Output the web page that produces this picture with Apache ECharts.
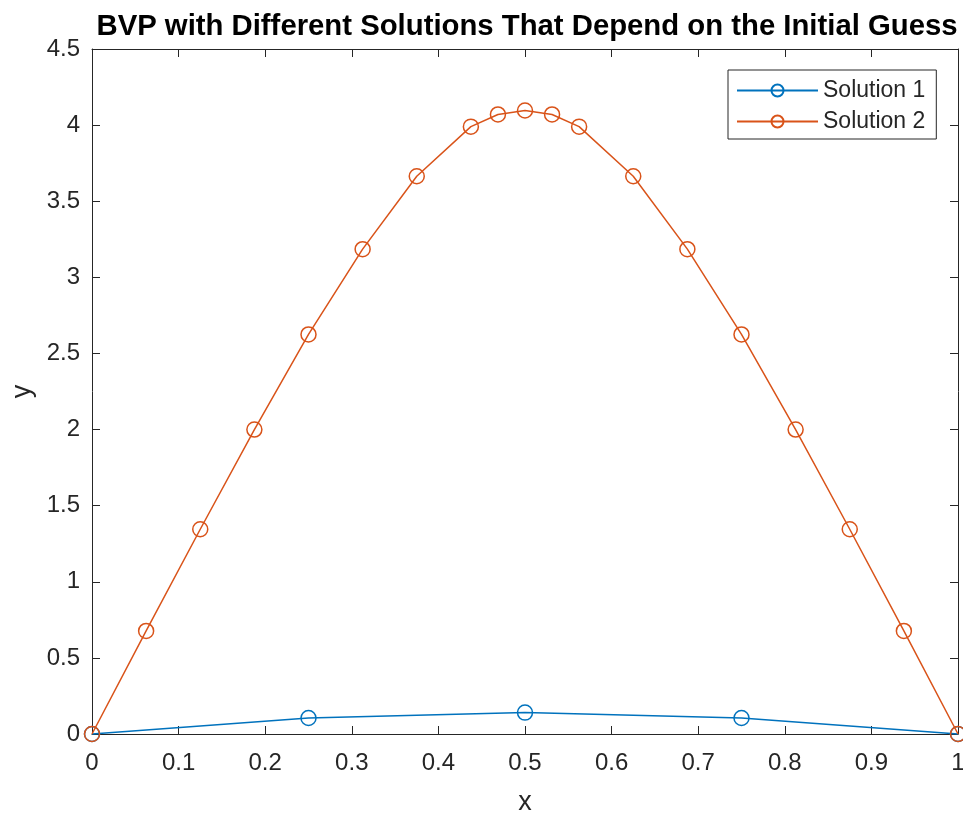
<!DOCTYPE html>
<html>
<head>
<meta charset="utf-8">
<script src="https://cdn.jsdelivr.net/npm/echarts@6/dist/echarts.min.js"></script>
<style>
html,body{margin:0;padding:0;background:#fff;overflow:hidden;}
#chart{width:963px;height:815px;}
</style>
</head>
<body>
<div id="chart"></div>
<script>
var titleText = 'BVP with Different Solutions That Depend on the Initial Guess';
var xName = 'x';
var yName = 'y';
var seriesNames = ['Solution 1', 'Solution 2'];

var sol1X = [0, 0.25, 0.5, 0.75, 1];
var sol1Y = [0, 0.105, 0.1405, 0.105, 0];

var sol2X = [0, 0.0625, 0.125, 0.1875, 0.25, 0.3125, 0.375, 0.4375, 0.46875, 0.5, 0.53125, 0.5625, 0.625, 0.6875, 0.75, 0.8125, 0.875, 0.9375, 1];
var sol2Y = [0, 0.677, 1.345, 2.0, 2.625, 3.185, 3.664, 3.99, 4.07, 4.096, 4.07, 3.99, 3.664, 3.185, 2.625, 2.0, 1.345, 0.677, 0];

var xMin = 0, xMax = 1, xStep = 0.1;
var yMin = 0, yMax = 4.5, yStep = 0.5;

function pairs(xs, ys) { return xs.map(function (x, i) { return [x, ys[i]]; }); }

var FONT = '"Liberation Sans", Arial, Helvetica, sans-serif';
var AX = '#262626';
var BLUE = '#0072BD';
var ORANGE = '#D95319';

var chart = echarts.init(document.getElementById('chart'), null, {renderer: 'canvas', width: 963, height: 815});

function axisBase(extra) {
  var a = {
    type: 'value',
    axisLine: {show: true, onZero: false, lineStyle: {color: AX, width: 1}},
    axisTick: {show: true, inside: true, length: 8, lineStyle: {color: AX, width: 1}},
    splitLine: {show: false}
  };
  for (var k in extra) a[k] = extra[k];
  return a;
}

function seriesOf(name, xs, ys, color, z) {
  return {
    name: name, type: 'line', xAxisIndex: 0, yAxisIndex: 0,
    data: pairs(xs, ys),
    symbol: 'circle', symbolSize: 15, showAllSymbol: true, clip: false,
    lineStyle: {color: color, width: 1.5},
    itemStyle: {color: 'rgba(255,255,255,0)', borderColor: color, borderWidth: 1.5},
    emphasis: {disabled: true},
    z: z
  };
}

var option = {
  backgroundColor: '#ffffff',
  animation: false,
  title: {
    text: titleText,
    left: 522,
    textAlign: 'center',
    top: 7,
    textStyle: {fontFamily: FONT, fontWeight: 'bold', fontSize: 29.3, color: '#000'}
  },
  legend: {
    orient: 'vertical',
    left: 728,
    top: 70,
    padding: [9, 11, 6, 8],
    itemGap: 8,
    itemWidth: 81,
    itemHeight: 15,
    backgroundColor: '#fff',
    borderColor: AX,
    borderWidth: 1,
    textStyle: {fontFamily: FONT, fontSize: 23, color: AX},
    data: seriesNames
  },
  grid: {left: 92, top: 49, width: 866, height: 685, containLabel: false, outerBoundsMode: 'none'},
  xAxis: [
    axisBase({
      min: xMin, max: xMax, interval: xStep, position: 'bottom',
      name: xName, nameLocation: 'middle', nameGap: 55,
      nameTextStyle: {fontFamily: FONT, fontSize: 27, color: AX},
      axisLabel: {show: true, margin: 17, fontFamily: FONT, fontSize: 24, color: AX,
        formatter: function (v) { return String(Math.round(v * 10) / 10); }}
    }),
    axisBase({min: xMin, max: xMax, interval: xStep, position: 'top', axisLabel: {show: false}})
  ],
  yAxis: [
    axisBase({
      min: yMin, max: yMax, interval: yStep, position: 'left',
      name: yName, nameLocation: 'middle', nameGap: 53,
      nameTextStyle: {fontFamily: FONT, fontSize: 27, color: AX},
      axisLabel: {show: true, margin: 12, fontFamily: FONT, fontSize: 24, color: AX,
        formatter: function (v) { return String(Math.round(v * 10) / 10); }}
    }),
    axisBase({min: yMin, max: yMax, interval: yStep, position: 'right', axisLabel: {show: false}})
  ],
  series: [
    seriesOf(seriesNames[0], sol1X, sol1Y, BLUE, 3),
    seriesOf(seriesNames[1], sol2X, sol2Y, ORANGE, 4)
  ]
};
chart.setOption(option);
</script>
</body>
</html>
